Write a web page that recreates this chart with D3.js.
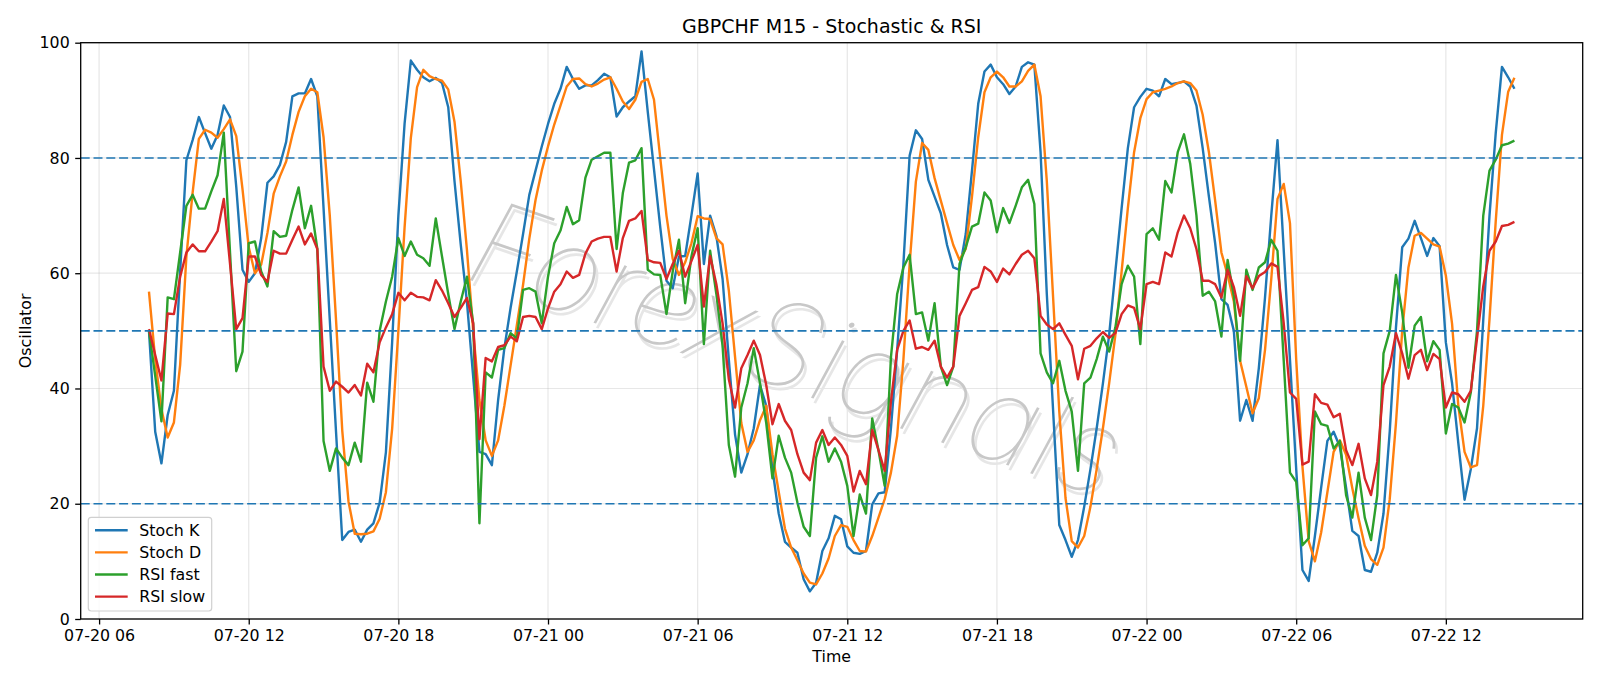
<!DOCTYPE html>
<html>
<head>
<meta charset="utf-8">
<script src="https://cdn.jsdelivr.net/npm/d3@7/dist/d3.min.js"></script>
<style>
body { margin: 0; background: #fff; }
svg { font-family: "DejaVu Sans", sans-serif; }
</style>
</head>
<body>
<svg id="chart"></svg>
<script>
// M15 bars, first bar 07-20 08:00
const firstBar = new Date(2023, 6, 20, 8, 0);
const barMinutes = 15;

const stochK = [50.0,32.5,27.0,35.4,39.6,60.3,79.6,83.1,87.1,84.3,81.6,84.0,89.1,87.1,75.0,60.6,58.5,60.0,66.1,75.7,
  76.8,78.8,82.8,90.7,91.2,91.2,93.7,90.7,71.3,51.9,32.5,13.7,15.1,15.5,13.4,15.5,16.6,20.2,28.9,48.0,
  70.0,86.0,96.9,95.3,94.0,93.3,93.9,93.0,88.8,76.0,65.0,55.0,42.0,29.0,28.6,26.7,38.0,47.0,54.0,60.3,
  66.8,73.6,77.8,82.0,85.9,89.4,92.0,95.8,93.7,92.0,92.6,92.6,93.5,94.6,94.0,87.2,88.8,89.8,90.7,98.5,
  88.0,78.0,68.0,58.7,57.4,62.9,63.0,70.0,77.3,61.6,70.0,66.5,59.0,45.0,32.0,25.4,28.6,33.1,40.6,37.0,
  26.0,18.3,13.4,12.4,11.5,6.9,4.8,6.3,11.8,14.0,17.9,17.3,12.6,11.5,11.3,11.8,19.9,21.8,22.0,33.1,
  46.7,61.6,80.4,84.8,83.3,76.2,73.3,70.4,64.9,61.0,60.6,66.8,77.8,89.4,95.0,96.2,94.0,92.8,91.1,92.4,
  95.8,96.6,96.2,81.0,56.4,36.4,16.3,13.7,10.8,13.7,19.5,26.0,33.1,40.9,49.3,60.3,71.3,81.7,88.8,90.6,
  92.0,91.7,90.7,93.7,92.8,93.0,93.3,92.4,89.1,81.7,73.3,65.2,55.5,54.5,50.0,34.4,38.0,34.4,43.5,55.8,
  70.0,83.1,64.0,45.0,26.0,8.5,6.6,14.4,22.8,30.9,32.5,29.9,22.8,15.3,14.4,8.5,8.2,11.5,18.3,32.5,
  50.6,64.5,66.0,69.1,66.1,63.0,66.1,64.7,48.0,40.9,30.5,20.7,26.0,33.1,51.9,70.0,84.3,95.8,94.0,92.0];

const stochD = [56.8,45.0,36.4,31.5,34.1,44.1,62.9,74.0,83.3,84.9,84.4,83.5,85.0,86.7,83.8,74.6,64.5,60.0,61.5,67.0,
  73.8,76.8,79.4,84.0,88.0,90.7,92.0,91.4,83.6,70.0,51.9,32.7,20.4,14.8,14.7,14.8,15.2,17.4,22.0,33.0,
  50.0,68.0,83.5,92.3,95.3,94.2,93.7,93.4,91.9,86.3,76.0,64.0,50.0,38.0,31.0,28.3,31.0,37.0,44.0,51.0,
  58.0,66.0,72.7,77.8,82.0,85.8,89.1,92.4,93.7,93.8,92.8,92.4,92.9,93.6,94.0,92.0,89.8,88.5,90.1,93.2,
  93.7,90.1,80.0,70.0,62.5,59.7,61.9,65.2,69.9,69.5,69.4,66.1,65.0,57.0,45.5,34.0,29.0,31.0,34.5,37.0,
  28.6,22.1,15.7,12.4,10.2,7.9,6.3,6.0,7.9,10.5,14.4,16.3,16.0,13.7,11.8,11.7,14.4,17.6,20.8,25.4,
  31.8,45.0,61.6,75.9,82.6,81.4,76.5,72.6,68.7,64.9,62.3,64.2,73.3,83.6,91.4,94.0,95.0,94.0,92.4,92.4,
  93.3,95.1,96.2,90.7,76.0,56.0,36.0,21.0,13.5,12.4,14.4,19.5,26.0,33.1,40.9,49.3,60.3,71.3,81.0,86.9,
  90.2,91.4,91.7,92.0,92.4,93.0,93.3,93.0,91.7,87.5,81.0,72.6,63.6,59.7,55.1,44.8,40.3,35.7,38.3,46.7,
  59.0,72.9,75.5,68.7,45.0,26.5,13.5,10.0,15.0,22.0,29.0,31.0,28.5,22.7,17.5,12.7,10.4,9.4,12.4,20.8,
  34.0,50.0,61.0,66.5,67.0,66.0,65.0,64.6,59.6,51.2,37.0,29.0,26.3,26.7,37.0,52.0,69.0,84.0,91.5,93.9];

const rsiFast = [50.0,42.2,34.3,55.8,55.5,63.6,71.7,73.6,71.2,71.2,74.2,77.0,84.4,63.6,43.0,46.4,65.2,65.5,60.3,57.7,
  67.3,66.3,66.5,71.0,74.9,67.8,71.7,64.2,30.9,25.7,29.6,28.0,26.7,30.6,27.3,41.0,37.7,50.0,55.1,59.4,
  66.1,63.0,65.5,63.2,62.6,61.3,69.5,62.9,56.4,50.3,55.1,59.4,51.3,16.6,42.8,41.9,46.7,47.0,49.6,48.7,
  57.1,57.4,56.8,51.3,59.4,65.2,67.4,71.5,68.5,69.2,76.6,79.7,80.3,80.9,80.9,64.2,73.9,79.2,79.6,81.7,
  60.6,59.8,59.7,52.9,60.3,65.8,54.8,62.9,67.8,47.7,63.9,56.4,47.4,30.2,24.7,36.7,40.9,47.0,40.9,34.0,
  24.4,31.8,28.0,25.4,20.2,16.0,14.4,28.0,31.7,27.3,29.6,27.3,23.1,14.4,21.6,18.3,34.8,29.3,23.1,45.4,
  56.4,61.0,63.2,52.9,53.2,48.3,54.8,43.8,40.6,43.8,61.6,64.5,68.1,68.6,74.0,72.6,67.1,71.3,68.7,71.7,
  74.9,76.2,72.0,46.1,42.8,40.9,44.8,39.6,36.0,25.7,40.9,41.9,45.1,49.0,46.4,50.6,58.1,61.3,59.4,47.7,
  66.8,67.8,65.8,76.0,74.0,81.0,84.1,79.0,70.0,56.1,56.8,55.1,49.0,62.3,56.0,44.8,60.6,57.1,61.0,61.9,
  65.8,63.9,44.8,25.4,23.8,12.8,14.0,36.0,33.8,33.5,29.6,30.9,21.5,17.6,25.4,17.6,13.7,21.5,46.1,50.0,
  59.7,53.2,43.6,50.9,52.4,44.7,48.2,46.7,32.2,37.3,36.7,34.1,39.3,50.0,70.0,77.8,79.7,82.2,82.5,83.0];

const rsiSlow = [50.3,45.8,41.4,53.0,52.9,59.4,63.6,65.0,63.8,63.8,65.5,67.3,72.9,61.6,50.3,52.2,62.9,62.9,59.7,58.5,
  63.9,63.4,63.4,65.8,68.1,65.0,66.9,64.2,43.8,39.6,41.2,40.3,39.3,40.6,38.8,44.3,42.8,48.0,50.6,52.9,
  56.6,55.3,56.6,55.9,55.8,55.3,58.8,57.0,54.8,52.4,54.0,55.7,51.3,31.2,45.3,44.7,47.2,47.5,49.0,48.2,
  52.4,52.6,52.4,50.3,53.9,56.8,58.1,60.3,59.2,59.7,63.4,65.5,66.0,66.3,66.3,60.3,66.1,69.1,69.5,70.8,
  62.3,61.9,61.8,59.0,61.6,63.9,59.4,62.1,64.9,54.2,63.0,58.1,51.3,41.6,36.7,43.5,45.8,48.3,45.8,40.6,
  33.8,37.3,34.4,32.8,28.6,25.4,24.1,30.6,32.8,30.2,31.5,30.2,28.3,22.1,25.7,23.4,32.8,29.3,25.7,37.7,
  46.7,50.0,51.8,46.9,47.2,46.7,48.3,43.8,41.9,43.8,52.6,54.8,57.1,57.6,61.1,60.3,58.5,60.8,59.8,61.6,
  63.2,63.9,62.6,52.6,51.1,50.3,51.3,49.3,47.4,41.6,46.9,47.4,48.7,49.8,48.8,49.6,52.9,54.4,54.0,50.3,
  58.1,58.5,58.1,63.6,62.9,67.1,70.0,67.8,64.2,58.7,58.7,58.1,55.8,60.6,57.6,52.6,59.5,57.4,59.5,60.2,
  61.7,61.1,51.3,39.3,38.2,26.8,27.3,39.0,37.5,37.2,35.0,35.6,29.3,26.7,30.4,24.4,21.5,27.3,40.6,43.8,
  49.6,46.1,41.7,45.8,46.7,43.2,46.0,45.1,36.7,39.3,39.0,37.7,39.6,48.7,57.7,63.9,65.5,68.2,68.4,68.9];

const seriesNames = ['Stoch K', 'Stoch D', 'RSI fast', 'RSI slow'];
const seriesColors = ['#1f77b4', '#ff7f0e', '#2ca02c', '#d62728'];
const levels = [20, 50, 80];
const yTicks = [0, 20, 40, 60, 80, 100];

function makeChart() {
	let w = 1600;
	let h = 686;
	let m = { left: 80.7, right: 1582.7, top: 42.7, bottom: 619 };

	let times = stochK.map((v, i) => d3.timeMinute.offset(firstBar, i * barMinutes));
	let t0 = times[0], t1 = times[times.length - 1];
	let pad = (t1 - t0) * 0.05;

	let x = d3.scaleTime()
		.domain([new Date(+t0 - pad), new Date(+t1 + pad)])
		.range([m.left, m.right]);
	let y = d3.scaleLinear().domain([0, 100]).range([m.bottom, m.top]);

	let chart = d3.select('#chart')
		.attr('width', w)
		.attr('height', h);

	let xTicks = x.ticks(d3.timeHour.every(6));

	// grid
	chart.append('g').selectAll('line')
		.data(xTicks)
		.enter()
		.append('line')
		.attr('x1', d => x(d)).attr('x2', d => x(d))
		.attr('y1', m.top).attr('y2', m.bottom)
		.style('stroke', '#b0b0b0').style('stroke-opacity', 0.3).style('stroke-width', 1.2);
	chart.append('g').selectAll('line')
		.data(yTicks)
		.enter()
		.append('line')
		.attr('x1', m.left).attr('x2', m.right)
		.attr('y1', d => y(d)).attr('y2', d => y(d))
		.style('stroke', '#b0b0b0').style('stroke-opacity', 0.3).style('stroke-width', 1.2);

	// watermark
	let wm = chart.append('g')
		.attr('transform', 'translate(783,388) rotate(19)');
	wm.append('text')
		.attr('x', 4).attr('y', 4)
		.attr('text-anchor', 'middle')
		.style('font-family', 'Inter, Roboto, Lato, sans-serif')
		.style('font-weight', 100).style('font-style', 'italic')
		.style('font-size', '118px')
		.style('fill', '#e6e6e6')
		.text('ForexSignals');
	wm.append('text')
		.attr('text-anchor', 'middle')
		.style('font-family', 'Inter, Roboto, Lato, sans-serif')
		.style('font-weight', 100).style('font-style', 'italic')
		.style('font-size', '118px')
		.style('fill', '#c8c8c8')
		.text('ForexSignals');

	// series
	let all = [stochK, stochD, rsiFast, rsiSlow];
	let line = d3.line()
		.x((d, i) => x(times[i]))
		.y(d => y(d));

	chart.append('g').selectAll('path')
		.data(all)
		.enter()
		.append('path')
		.attr('d', d => line(d))
		.style('fill', 'none')
		.style('stroke', (d, i) => seriesColors[i])
		.style('stroke-width', 2.4)
		.style('stroke-linejoin', 'round');

	// level lines
	chart.append('g').selectAll('line')
		.data(levels)
		.enter()
		.append('line')
		.attr('x1', m.left).attr('x2', m.right)
		.attr('y1', d => y(d)).attr('y2', d => y(d))
		.style('stroke', '#1f77b4')
		.style('stroke-width', 1.6)
		.style('stroke-dasharray', '9,3.8');

	// axes
	let xAxis = d3.axisBottom(x)
		.tickValues(xTicks)
		.tickFormat(d3.timeFormat('%m-%d %H'))
		.tickSize(5.5).tickPadding(5.5);
	let yAxis = d3.axisLeft(y)
		.tickValues(yTicks)
		.tickSize(5.5).tickPadding(5.5);

	let gx = chart.append('g')
		.attr('transform', `translate(0,${m.bottom})`)
		.call(xAxis);
	let gy = chart.append('g')
		.attr('transform', `translate(${m.left},0)`)
		.call(yAxis);
	[gx, gy].forEach(g => {
		g.select('.domain').remove();
		g.selectAll('line').style('stroke', '#000').style('stroke-width', 1.3);
		g.selectAll('text')
			.style('font-family', '"DejaVu Sans", sans-serif')
			.style('font-size', '15.8px')
			.style('fill', '#000');
	});

	chart.append('rect')
		.attr('x', m.left).attr('y', m.top)
		.attr('width', m.right - m.left).attr('height', m.bottom - m.top)
		.style('fill', 'none').style('stroke', '#000').style('stroke-width', 1.3);

	// titles
	chart.append('text')
		.attr('x', (m.left + m.right) / 2).attr('y', 32.5)
		.style('text-anchor', 'middle').style('font-size', '19px')
		.text('GBPCHF M15 - Stochastic & RSI');
	chart.append('text')
		.attr('x', (m.left + m.right) / 2).attr('y', 662)
		.style('text-anchor', 'middle').style('font-size', '15.8px')
		.text('Time');
	chart.append('text')
		.attr('transform', `translate(31,${(m.top + m.bottom) / 2}) rotate(-90)`)
		.style('text-anchor', 'middle').style('font-size', '15.8px')
		.text('Oscillator');

	// legend
	let lg = chart.append('g');
	lg.append('rect')
		.attr('x', 88.3).attr('y', 517.3)
		.attr('width', 123.4).attr('height', 93.7)
		.attr('rx', 3)
		.style('fill', '#fff').style('fill-opacity', 0.8)
		.style('stroke', '#d0d0d0').style('stroke-width', 1.2);
	let rows = lg.selectAll('g.row')
		.data(seriesNames)
		.enter()
		.append('g')
		.attr('transform', (d, i) => `translate(0,${530.3 + i * 22.1})`);
	rows.append('line')
		.attr('x1', 95).attr('x2', 127.7)
		.style('stroke', (d, i) => seriesColors[i])
		.style('stroke-width', 2.4);
	rows.append('text')
		.attr('x', 139.3).attr('y', 5.7)
		.style('font-size', '15.8px')
		.text(d => d);
}

window.onload = function () {
	makeChart();
}
</script>
</body>
</html>
